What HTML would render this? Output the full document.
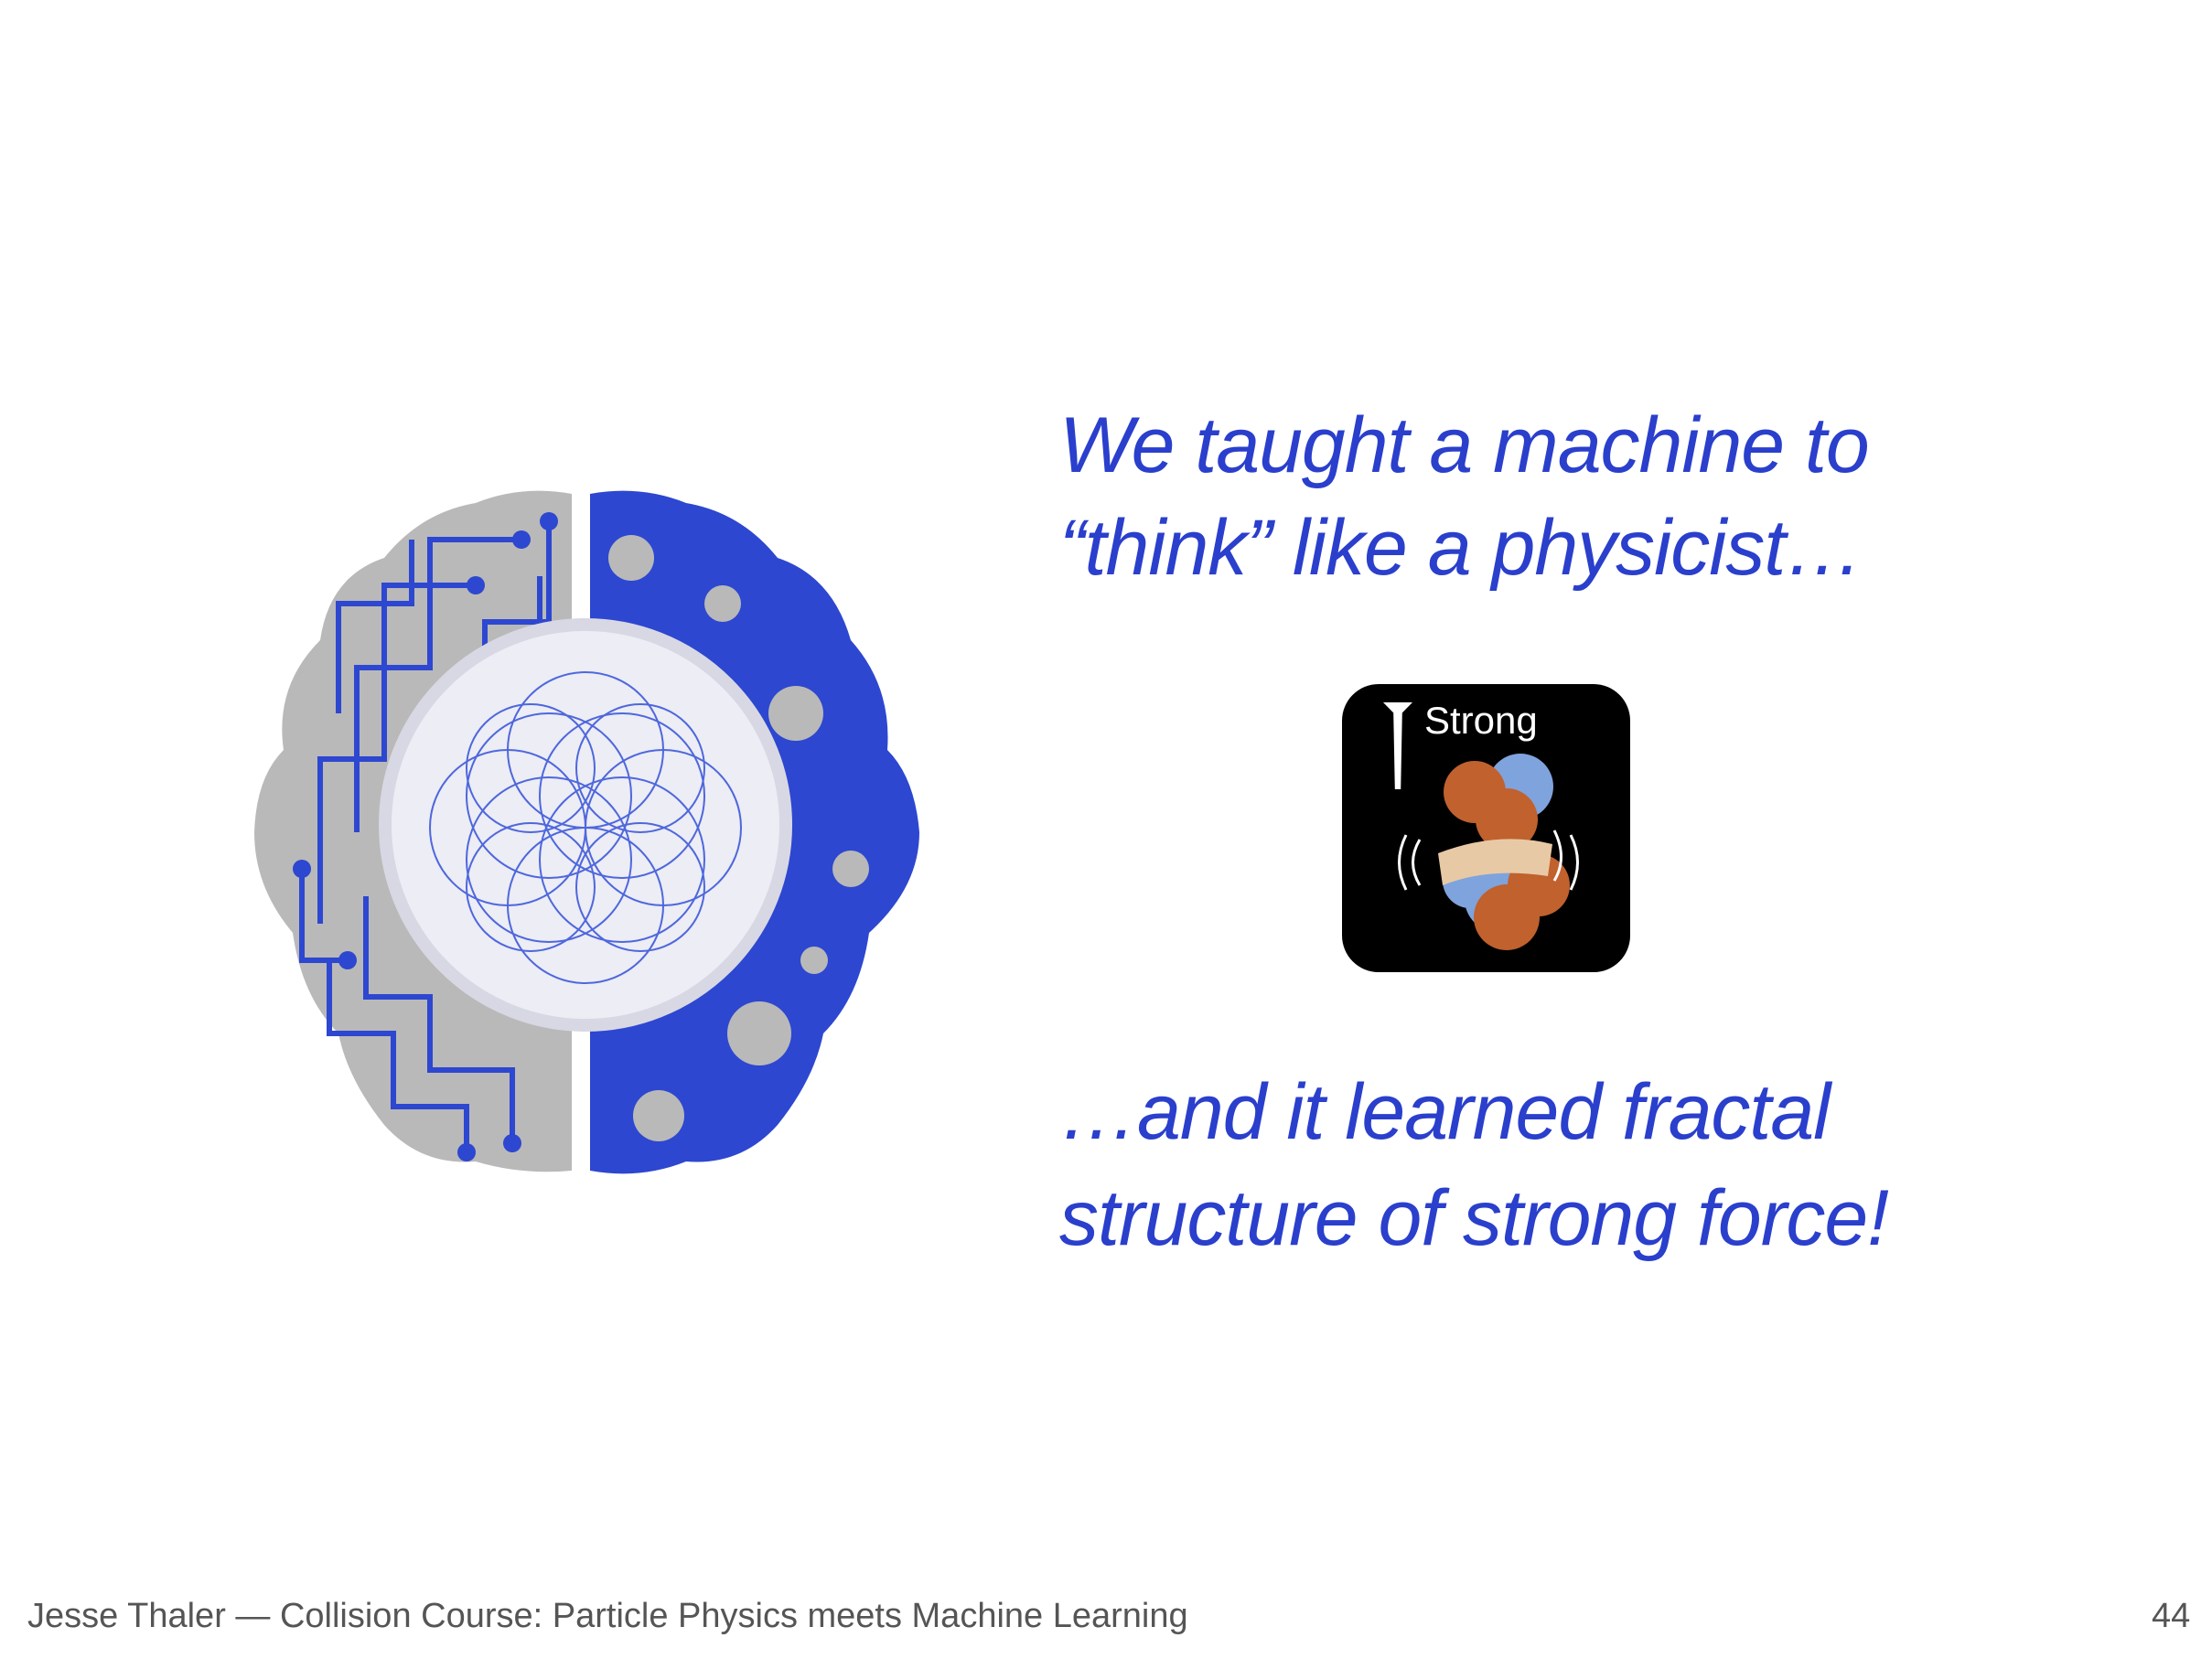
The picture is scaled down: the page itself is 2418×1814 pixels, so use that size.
<!DOCTYPE html>
<html><head><meta charset="utf-8"><style>
html,body{margin:0;padding:0;background:#fff}
body{width:2418px;height:1814px;position:relative;overflow:hidden;font-family:"Liberation Sans",sans-serif}
.t{position:absolute;left:1158px;color:#2a3fcc;font-style:italic;font-size:86px;line-height:1;white-space:nowrap;letter-spacing:-1px}
</style></head><body>
<svg style="position:absolute;left:270px;top:530px" width="750" height="760" viewBox="0 0 750 760">
 <path d="M355 10 L355 750 Q300 755 250 740 Q190 745 150 700 Q110 650 100 600 Q60 560 50 490 Q8 440 8 380 Q10 320 40 290 Q30 220 80 170 Q90 100 150 80 Q190 30 250 20 Q300 0 355 10Z" fill="#b9b9b9"/>
 <path d="M375 10 L375 750 Q430 760 480 740 Q540 745 580 700 Q620 650 630 600 Q670 560 680 490 Q735 440 735 380 Q730 320 700 290 Q705 220 660 170 Q640 100 580 80 Q540 30 480 20 Q430 0 375 10Z" fill="#2d47d0"/>
 <g stroke="#2d47d0" stroke-width="6" fill="none">
  <path d="M330 40 V150 H260 V260"/><path d="M300 60 H200 V200 H120 V380"/><path d="M250 110 H150 V300 H80 V480"/>
  <path d="M90 520 V600 H160 V680 H240 V730"/><path d="M130 450 V560 H200 V640 H290 V720"/><path d="M60 420 V520 H110"/>
  <path d="M320 100 V200"/><path d="M180 60 V130 H100 V250"/>
 </g>
 <g fill="#2d47d0"><circle cx="330" cy="40" r="10"/><circle cx="300" cy="60" r="10"/><circle cx="250" cy="110" r="10"/><circle cx="60" cy="420" r="10"/><circle cx="240" cy="730" r="10"/><circle cx="290" cy="720" r="10"/><circle cx="110" cy="520" r="10"/><circle cx="320" cy="200" r="10"/></g>
 <g fill="#b9b9b9"><circle cx="420" cy="80" r="25"/><circle cx="600" cy="250" r="30"/><circle cx="660" cy="420" r="20"/><circle cx="560" cy="600" r="35"/><circle cx="450" cy="690" r="28"/><circle cx="620" cy="520" r="15"/><circle cx="520" cy="130" r="20"/><circle cx="400" cy="560" r="18"/></g>
 <circle cx="370" cy="372" r="219" fill="#ecedf5" stroke="#d8d8e4" stroke-width="14"/>
 <g stroke="#3450d8" stroke-width="2" fill="none" opacity="0.85">
  <circle cx="330" cy="340" r="90"/><circle cx="410" cy="340" r="90"/><circle cx="330" cy="410" r="90"/><circle cx="410" cy="410" r="90"/>
  <circle cx="370" cy="290" r="85"/><circle cx="370" cy="460" r="85"/><circle cx="285" cy="375" r="85"/><circle cx="455" cy="375" r="85"/>
  <circle cx="310" cy="310" r="70"/><circle cx="430" cy="440" r="70"/><circle cx="430" cy="310" r="70"/><circle cx="310" cy="440" r="70"/>
 </g>
</svg>
<div class="t" style="top:444px">We taught a machine to</div>
<div class="t" style="top:556px">“think” like a physicist…</div>
<div style="position:absolute;left:1467px;top:748px;width:315px;height:315px;background:#000;border-radius:40px">
 <div style="position:absolute;left:45px;top:20px;width:32px;height:95px;background:#fff;clip-path:polygon(0 0,100% 0,65% 12%,60% 100%,40% 100%,35% 12%)"></div>
 <div style="position:absolute;left:90px;top:16px;color:#fff;font-size:42px">Strong</div>
 <svg style="position:absolute;left:0;top:0" width="315" height="315">
  <circle cx="170" cy="235" r="36" fill="#7fa3dd"/><circle cx="215" cy="220" r="34" fill="#c0612e"/><circle cx="140" cy="215" r="30" fill="#7fa3dd"/>
  <circle cx="180" cy="255" r="36" fill="#c0612e"/><circle cx="195" cy="112" r="36" fill="#7fa3dd"/><circle cx="145" cy="118" r="34" fill="#c0612e"/><circle cx="180" cy="148" r="34" fill="#c0612e"/>
  <path d="M105 185 Q170 160 230 175 L225 210 Q160 200 110 220Z" fill="#e8c9a6"/>
  <path d="M85 170 Q70 195 85 220M70 165 Q55 195 70 225M232 160 Q247 190 232 215M250 165 Q265 195 250 225" stroke="#fff" stroke-width="3" fill="none"/>
 </svg>
</div>
<div class="t" style="top:1173px">…and it learned fractal</div>
<div class="t" style="top:1289px">structure of strong force!</div>
<div style="position:absolute;left:30px;top:1746px;font-size:38px;color:#555;white-space:nowrap">Jesse Thaler — Collision Course:  Particle Physics meets Machine Learning</div>
<div style="position:absolute;left:2352px;top:1746px;font-size:38px;color:#555">44</div>
</body></html>
